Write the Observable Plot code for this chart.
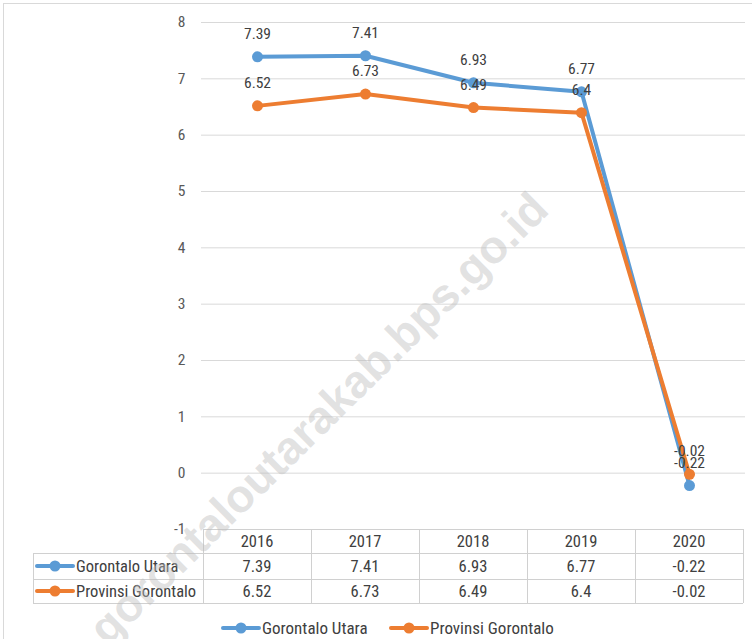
<!DOCTYPE html>
<html>
<head>
<meta charset="utf-8">
<script src="https://cdn.jsdelivr.net/npm/d3@7"></script>
<script src="https://cdn.jsdelivr.net/npm/@observablehq/plot@0.6"></script>
<style>
  html, body { margin: 0; padding: 0; background: #fff; }
  #chart { width: 752px; height: 639px; }
</style>
</head>
<body>
<div id="chart"></div>
<script>
const years = ["2016", "2017", "2018", "2019", "2020"];
const gorontaloUtara = [7.39, 7.41, 6.93, 6.77, -0.22];
const provinsiGorontalo = [6.52, 6.73, 6.49, 6.4, -0.02];
const seriesNames = ["Gorontalo Utara", "Provinsi Gorontalo"];
const seriesColors = ["#5B9BD5", "#ED7D31"];
const yTicks = [-1, 0, 1, 2, 3, 4, 5, 6, 7, 8];
const watermark = "gorontaloutarakab.bps.go.id";

const seriesValues = [gorontaloUtara, provinsiGorontalo];
const data = seriesNames.flatMap((s, si) =>
  years.map((yr, i) => ({ year: yr, value: seriesValues[si][i], series: s }))
);

const FONT = "'Liberation Sans Narrow', 'Roboto Condensed', Roboto, sans-serif";

const plot = Plot.plot({
  width: 752,
  height: 639,
  marginLeft: 201,
  marginRight: 7,
  marginTop: 22,
  marginBottom: 110,
  style: { fontFamily: FONT, background: "#fff", overflow: "visible" },
  x: { type: "band", domain: years, padding: 0, axis: null },
  y: { domain: [-1, 8], axis: null },
  color: { domain: seriesNames, range: seriesColors },
  marks: [
    Plot.ruleY(yTicks.filter(t => t > -1), { stroke: "#d9d9d9", strokeWidth: 1 }),
    Plot.axisY({ ticks: yTicks, tickSize: 0, tickPadding: 16, fontSize: 15.5, fill: "#595959", label: null, tickFormat: d => String(d) }),
    Plot.line(data, { x: "year", y: "value", z: "series", stroke: "series", strokeWidth: 4, strokeLinejoin: "round", strokeLinecap: "round" }),
    Plot.dot(data, { x: "year", y: "value", fill: "series", r: 5.5, stroke: "none" }),
    Plot.text(data, { x: "year", y: "value", text: d => String(d.value), dy: -23, fill: "#404040", fontSize: 15.5 })
  ]
});

document.getElementById("chart").appendChild(plot);

// Table, legend, frame, watermark using the plot's scales
const svg = d3.select(plot);
const xs = plot.scale("x");
const ys = plot.scale("y");
const bw = xs.bandwidth;
const edges = years.map(y => xs.apply(y)).concat([xs.apply(years[years.length - 1]) + bw]);
const tableTop = ys.apply(-1);
const rowBounds = [tableTop, tableTop + 24, tableTop + 50, tableTop + 74];
const leftX = 33;
const gridC = "#d0d0d0";
const TFS = 16.5;

const tg = svg.append("g").attr("font-family", FONT);
// horizontal lines
tg.append("line").attr("x1", edges[0]).attr("x2", edges[5]).attr("y1", rowBounds[0] + 0.5).attr("y2", rowBounds[0] + 0.5).attr("stroke", gridC);
[1, 2, 3].forEach(r => {
  tg.append("line").attr("x1", leftX).attr("x2", edges[5]).attr("y1", rowBounds[r] + 0.5).attr("y2", rowBounds[r] + 0.5).attr("stroke", gridC);
});
// vertical lines
edges.forEach(e => {
  tg.append("line").attr("x1", e + 0.5).attr("x2", e + 0.5).attr("y1", rowBounds[0]).attr("y2", rowBounds[3]).attr("stroke", gridC);
});
tg.append("line").attr("x1", leftX + 0.5).attr("x2", leftX + 0.5).attr("y1", rowBounds[1]).attr("y2", rowBounds[3]).attr("stroke", gridC);

// header
years.forEach(yr => {
  tg.append("text").attr("x", xs.apply(yr) + bw / 2).attr("y", (rowBounds[0] + rowBounds[1]) / 2)
    .attr("text-anchor", "middle").attr("dominant-baseline", "central")
    .attr("font-size", TFS).attr("fill", "#404040").text(yr);
});
// rows
seriesNames.forEach((s, si) => {
  const cy = (rowBounds[si + 1] + rowBounds[si + 2]) / 2;
  tg.append("line").attr("x1", leftX + 4).attr("x2", leftX + 40).attr("y1", cy).attr("y2", cy)
    .attr("stroke", seriesColors[si]).attr("stroke-width", 4).attr("stroke-linecap", "round");
  tg.append("circle").attr("cx", leftX + 22).attr("cy", cy).attr("r", 5.5).attr("fill", seriesColors[si]);
  tg.append("text").attr("x", leftX + 43).attr("y", cy).attr("dominant-baseline", "central")
    .attr("text-anchor", "start")
    .attr("font-size", TFS).attr("fill", "#404040").text(s);
  years.forEach((yr, i) => {
    tg.append("text").attr("x", xs.apply(yr) + bw / 2).attr("y", cy)
      .attr("text-anchor", "middle").attr("dominant-baseline", "central")
      .attr("font-size", TFS).attr("fill", "#404040").text(String(seriesValues[si][i]));
  });
});

// legend
const lg = svg.append("g").attr("font-family", FONT);
const legendY = 628;
const legendX = [223, 391];
seriesNames.forEach((s, si) => {
  const lx = legendX[si];
  lg.append("line").attr("x1", lx).attr("x2", lx + 36).attr("y1", legendY).attr("y2", legendY)
    .attr("stroke", seriesColors[si]).attr("stroke-width", 4).attr("stroke-linecap", "round");
  lg.append("circle").attr("cx", lx + 18).attr("cy", legendY).attr("r", 5.5).attr("fill", seriesColors[si]);
  lg.append("text").attr("x", lx + 39).attr("y", legendY).attr("dominant-baseline", "central")
    .attr("text-anchor", "start")
    .attr("font-size", 17).attr("fill", "#404040").text(s);
});

// outer frame
svg.append("rect").attr("x", 3.5).attr("y", 3.5).attr("width", 760).attr("height", 640)
  .attr("fill", "none").attr("stroke", "#d9d9d9");

// watermark
svg.append("text")
  .attr("transform", "translate(318,418) rotate(-44.5)")
  .attr("text-anchor", "middle").attr("dominant-baseline", "central")
  .attr("font-family", "'Liberation Sans', Arial, sans-serif").attr("font-weight", "bold")
  .attr("font-size", 46).attr("fill", "#bdbdbd").attr("fill-opacity", 0.45)
  .text(watermark);
</script>
</body>
</html>
